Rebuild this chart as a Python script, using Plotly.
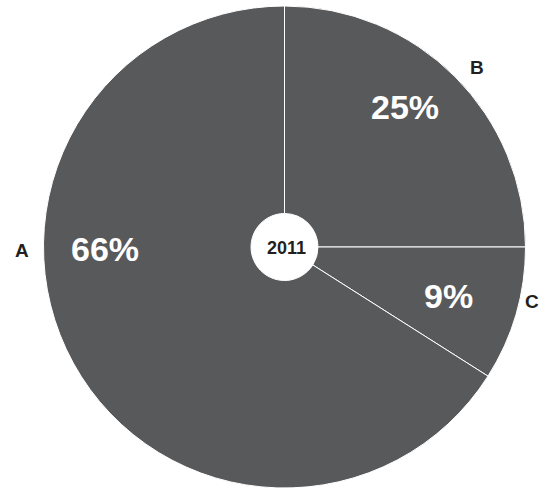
import plotly.graph_objects as go

categories = ["B", "C", "A"]
values = [25, 9, 66]
year_label = "2011"

W, H = 540, 488
cx, cy, r = 284.5, 247.0, 241.0
hole_r = 33.5

# label positions (pixels) for category names and percentage texts
cat_pos = {"A": (21.5, 250.5), "B": (476.5, 67.5), "C": (532, 301)}
pct_pos = {"A": (105, 248.5), "B": (405, 106.5), "C": (448, 296)}

FONT = "Arial, 'Liberation Sans', Helvetica, sans-serif"
GRAY = "#58595b"

def clamp(v):
    return max(0.0, min(1.0, v))

fig = go.Figure(go.Pie(
    labels=categories,
    values=values,
    sort=False,
    direction="clockwise",
    rotation=0,
    hole=hole_r / r,
    marker=dict(colors=[GRAY] * len(values), line=dict(color="white", width=1)),
    textinfo="none",
    hoverinfo="skip",
    showlegend=False,
    domain=dict(x=[clamp((cx - r) / W), clamp((cx + r) / W)],
                y=[clamp(1 - (cy + r) / H), clamp(1 - (cy - r) / H)]),
))

def px(x, y):
    return x / W, 1 - y / H

anns = []
for c, v in zip(categories, values):
    x, y = px(*pct_pos[c])
    anns.append(dict(x=x, y=y, xref="paper", yref="paper", text=f"<b>{v}%</b>",
                     showarrow=False, font=dict(family=FONT, size=34, color="white"),
                     xanchor="center", yanchor="middle"))
    x, y = px(*cat_pos[c])
    anns.append(dict(x=x, y=y, xref="paper", yref="paper", text=f"<b>{c}</b>",
                     showarrow=False, font=dict(family=FONT, size=19, color="#231f20"),
                     xanchor="center", yanchor="middle"))
x, y = px(286, 248)
anns.append(dict(x=x, y=y, xref="paper", yref="paper", text=f"<b>{year_label}</b>",
                 showarrow=False, font=dict(family=FONT, size=18, color="#231f20"),
                 xanchor="center", yanchor="middle"))

fig.update_layout(
    width=W, height=H,
    margin=dict(l=0, r=0, t=0, b=0),
    paper_bgcolor="white", plot_bgcolor="white",
    annotations=anns,
)

fig.write_html("out.html")
